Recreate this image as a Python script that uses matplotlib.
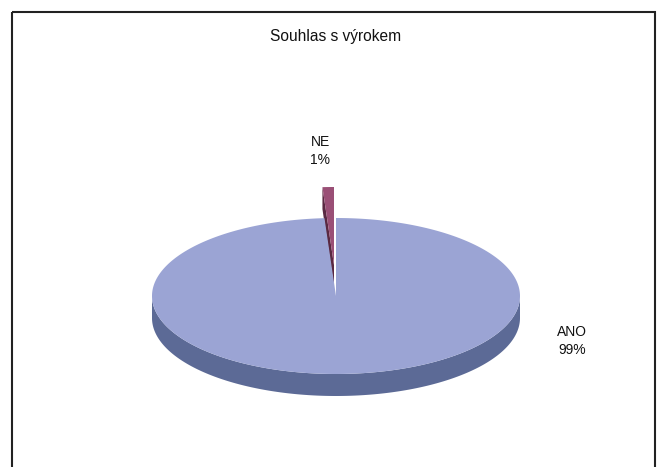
import numpy as np
import matplotlib.pyplot as plt
from matplotlib.patches import Polygon, Rectangle

plt.rcParams["font.family"] = ["Liberation Sans", "DejaVu Sans"]

CATEGORIES = ["ANO", "NE"]
VALUES = [99, 1]
TOP_COLORS = ["#9ba4d4", "#9a4f76"]
SIDE_COLORS = ["#5c6a96", "#5a2942"]
TITLE = "Souhlas s výrokem"

# pie geometry in pixel units
CX, CY = 336, 296
RX, RY = 184, 78
DEPTH = 22
EXPLODE = [0, 31]


def ell(theta, dy=0.0, depth=0.0, dx=0.0):
    # theta in degrees, clockwise from 12 o'clock
    t = np.radians(theta)
    return CX + RX * np.sin(t) + dx, CY - RY * np.cos(t) - dy + depth


fig = plt.figure(figsize=(6.6, 4.67), dpi=100)
ax = fig.add_axes([0, 0, 1, 1])
ax.set_xlim(0, 660)
ax.set_ylim(467, 0)
ax.axis("off")

ax.add_patch(Rectangle((12, 12), 643, 470, fill=False, edgecolor="#222222", lw=1.5))

total = sum(VALUES)
start = 0.0
wedges = []
for v in VALUES:
    end = start + 360.0 * v / total
    wedges.append((start, end))
    start = end

# side faces (front half only)
for (a0, a1), dy, side in zip(wedges, EXPLODE, SIDE_COLORS):
    lo, hi = max(a0, 90), min(a1, 270)
    if hi > lo:
        th = np.linspace(lo, hi, 200)
        xt, yt = ell(th, dy)
        xb, yb = ell(th[::-1], dy, DEPTH)
        ax.add_patch(Polygon(np.column_stack([np.r_[xt, xb], np.r_[yt, yb]]),
                             closed=True, facecolor=side, edgecolor="none"))

# radial cut face of the exploded slice
a0, a1 = wedges[1]
dy = EXPLODE[1]
dx = -2
rx0, ry0 = ell(a0, dy, dx=dx)
ax.add_patch(Polygon([(CX + dx, CY - dy), (rx0, ry0), (rx0, ry0 + DEPTH), (CX + dx, CY - dy + DEPTH)],
                     closed=True, facecolor=SIDE_COLORS[1], edgecolor="none"))

# top faces
for i, ((a0, a1), dy, top) in enumerate(zip(wedges, EXPLODE, TOP_COLORS)):
    sx = dx if i == 1 else 0
    th = np.linspace(a0, a1, 400)
    x, y = ell(th, dy, dx=sx)
    ax.add_patch(Polygon(np.column_stack([np.r_[CX + sx, x], np.r_[CY - dy, y]]),
                         closed=True, facecolor=top, edgecolor="none"))

ax.text(336, 37, TITLE, ha="center", va="center", fontsize=11.2, color="#111111")
ax.text(572, 341, f"{CATEGORIES[0]}\n{VALUES[0]}%", ha="center", va="center",
        fontsize=10, color="#111111", linespacing=1.3)
ax.text(320, 151, f"{CATEGORIES[1]}\n{VALUES[1]}%", ha="center", va="center",
        fontsize=10, color="#111111", linespacing=1.3)

fig.savefig("out.png", dpi=100)
